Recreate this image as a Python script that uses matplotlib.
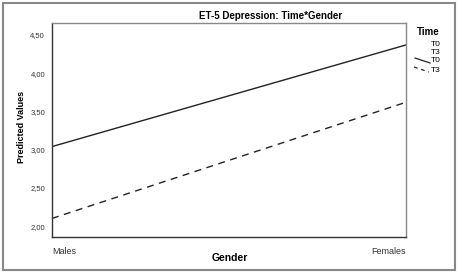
import matplotlib
matplotlib.use('Agg')
import matplotlib.pyplot as plt
from matplotlib.lines import Line2D
from matplotlib.patches import Rectangle

plt.rcParams['font.family'] = ['Liberation Sans', 'DejaVu Sans']

# data
genders = ['Males', 'Females']
t0_vals = [3.04, 4.37]
t3_vals = [2.10, 3.62]
yticks = [2.0, 2.5, 3.0, 3.5, 4.0, 4.5]
ytick_labels = ['2,00', '2,50', '3,00', '3,50', '4,00', '4,50']

fig = plt.figure(figsize=(4.59, 2.74), dpi=100)
W, H = 459, 274
ax = fig.add_axes([52 / W, 1 - 237 / H, (406 - 52) / W, (237 - 23) / H])

x = list(range(len(genders)))
ax.plot(x, t0_vals, color='#222222', lw=1.0, ls='-')
ax.plot(x, t3_vals, color='#222222', lw=1.0, ls=(0, (5, 4)))

ax.set_xlim(0, 1)
ax.set_ylim(1.857, 4.657)
ax.set_yticks(yticks)
ax.set_yticklabels(ytick_labels, fontsize=5.5, color='#333333')
ax.set_xticks(x)
ax.set_xticklabels(genders, fontsize=6.5, color='#333333')
xl = ax.get_xticklabels()
xl[0].set_ha('left')
xl[1].set_ha('right')
ax.tick_params(length=0, pad=5)
ax.tick_params(axis='x', pad=7)

for s in ['left', 'bottom']:
    ax.spines[s].set_color('#333333')
    ax.spines[s].set_linewidth(1.0)
for s in ['top', 'right']:
    ax.spines[s].set_color('#888888')
    ax.spines[s].set_linewidth(1.0)

fig.text(271 / W, 1 - 16 / H, 'ET-5 Depression: Time*Gender', ha='center', va='center',
         fontsize=7, fontweight='bold')
fig.text(230 / W, 1 - 258 / H, 'Gender', ha='center', va='center', fontsize=7.5, fontweight='bold')
fig.text(21 / W, 1 - 127 / H, 'Predicted Values', ha='center', va='center', rotation=90,
         fontsize=6.5, fontweight='bold')

# legend (SPSS style)
fig.text(428 / W, 1 - 32 / H, 'Time', ha='center', va='center', fontsize=7, fontweight='bold')
for yy, lab in zip([44, 52, 61, 70], ['T0', 'T3', 'T0', 'T3']):
    fig.text(431 / W, 1 - yy / H, lab, ha='left', va='center', fontsize=6)
fig.add_artist(Line2D([415 / W, 430 / W], [1 - 58 / H, 1 - 63 / H], color='#222222', lw=0.9))
fig.add_artist(Line2D([414 / W, 429 / W], [1 - 67 / H, 1 - 72 / H], color='#222222', lw=0.9,
                      ls=(0, (3, 3))))

# outer frame
fig.add_artist(Rectangle((3 / W, 4 / H), 452 / W, 267 / H, transform=fig.transFigure,
                         fill=False, edgecolor='#888888', lw=1.5))

fig.savefig('out.png', dpi=100)
